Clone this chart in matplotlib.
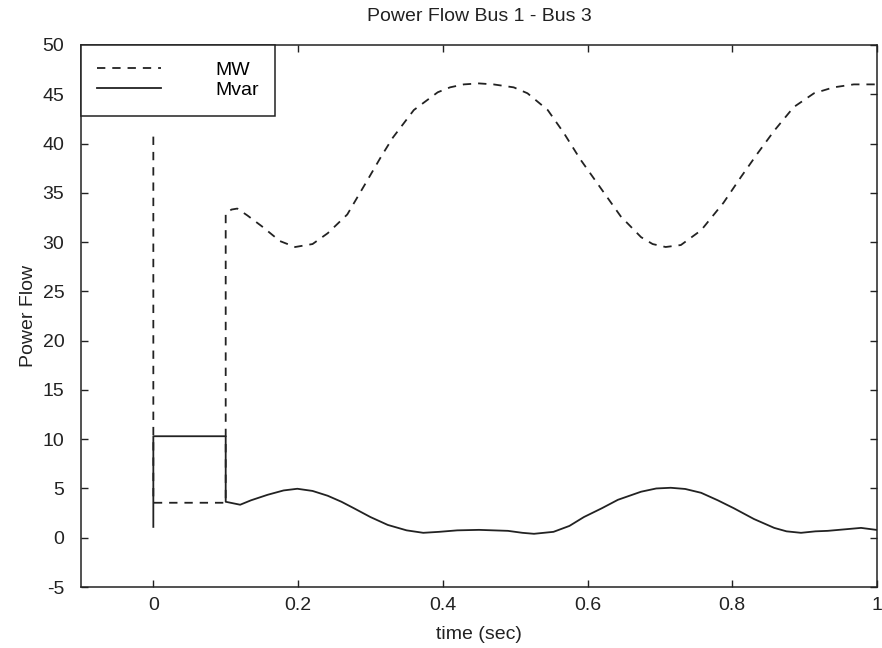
import matplotlib
matplotlib.use("Agg")
import matplotlib.pyplot as plt

plt.rcParams['font.family'] = ['Liberation Sans', 'DejaVu Sans']
plt.rcParams['lines.scale_dashes'] = False
plt.rcParams['axes.unicode_minus'] = False

# MW (dashed)
t_mw = [0.0, 0.0, 0.1, 0.1, 0.108, 0.116, 0.13, 0.15, 0.175, 0.196, 0.22, 0.241,
        0.268, 0.296, 0.315, 0.331, 0.36, 0.393, 0.41, 0.429, 0.45, 0.47, 0.498,
        0.517, 0.545, 0.567, 0.59, 0.618, 0.646, 0.674, 0.69, 0.708, 0.729,
        0.757, 0.788, 0.812, 0.835, 0.858, 0.885, 0.913, 0.94, 0.968, 1.0]
mw = [40.7, 3.55, 3.55, 32.9, 33.3, 33.4, 32.7, 31.6, 30.1, 29.5, 29.8, 30.9,
      32.8, 36.3, 38.7, 40.6, 43.4, 45.2, 45.7, 46.0, 46.1, 46.0, 45.7,
      45.1, 43.4, 41.1, 38.4, 35.5, 32.6, 30.5, 29.8, 29.5, 29.7,
      31.2, 34.0, 36.6, 39.0, 41.3, 43.7, 45.1, 45.7, 46.0, 46.0]

# Mvar (solid)
t_mvar = [0.0, 0.0, 0.1, 0.1, 0.11, 0.12, 0.135, 0.158, 0.18, 0.199, 0.22, 0.241,
          0.26, 0.277, 0.30, 0.324, 0.35, 0.373, 0.395, 0.42, 0.45, 0.49, 0.51,
          0.526, 0.553, 0.575, 0.595, 0.62, 0.642, 0.674, 0.695, 0.715, 0.735,
          0.757, 0.78, 0.802, 0.83, 0.858, 0.875, 0.895, 0.915, 0.932, 0.955,
          0.978, 0.999]
mvar = [1.1, 10.3, 10.3, 3.65, 3.5, 3.35, 3.8, 4.36, 4.8, 4.97, 4.75, 4.26,
        3.65, 3.0, 2.1, 1.3, 0.75, 0.5, 0.6, 0.75, 0.8, 0.7, 0.5,
        0.4, 0.6, 1.2, 2.1, 3.0, 3.85, 4.67, 5.0, 5.07, 4.95,
        4.56, 3.8, 3.0, 1.9, 1.0, 0.65, 0.5, 0.65, 0.7, 0.85,
        1.0, 0.8]

xticks = [0, 0.2, 0.4, 0.6, 0.8, 1]
xticklabels = ['0', '0.2', '0.4', '0.6', '0.8', '1']
yticks = [-5, 0, 5, 10, 15, 20, 25, 30, 35, 40, 45, 50]

fig = plt.figure(figsize=(8.82, 6.48), dpi=100)
ax = fig.add_axes([0.0918, 0.0941, 0.9943 - 0.0918, 0.9306 - 0.0941])

ax.plot(t_mw, mw, color='#222222', lw=1.3, linestyle=(0, (6, 5)), label='MW')
ax.plot(t_mvar, mvar, color='#222222', lw=1.3, linestyle='-', label='Mvar')

ax.set_xlim(-0.1, 1.0)
ax.set_ylim(-5, 50)
ax.set_xticks(xticks)
ax.set_xticklabels(xticklabels)
ax.set_yticks(yticks)
ax.tick_params(direction='in', top=True, right=True, length=5, width=1,
               labelsize=14, colors='#222222')
ax.tick_params(axis='y', pad=12)
ax.tick_params(axis='x', pad=7)
for s in ax.spines.values():
    s.set_linewidth(1.1)
    s.set_color('#222222')

ax.set_title('Power Flow Bus 1 - Bus 3', fontsize=14, pad=17, color='#222222')
ax.set_xlabel('time (sec)', fontsize=14, labelpad=9, color='#222222')
ax.set_ylabel('Power Flow', fontsize=14, labelpad=4, color='#222222')

leg = ax.legend(loc='upper left', borderaxespad=0, fancybox=False,
                edgecolor='#222222', framealpha=1, fontsize=14,
                handlelength=3.25, handletextpad=2.8, borderpad=0.85,
                labelspacing=0.12)
leg.get_frame().set_linewidth(1.1)

fig.savefig('out.png', dpi=100)
